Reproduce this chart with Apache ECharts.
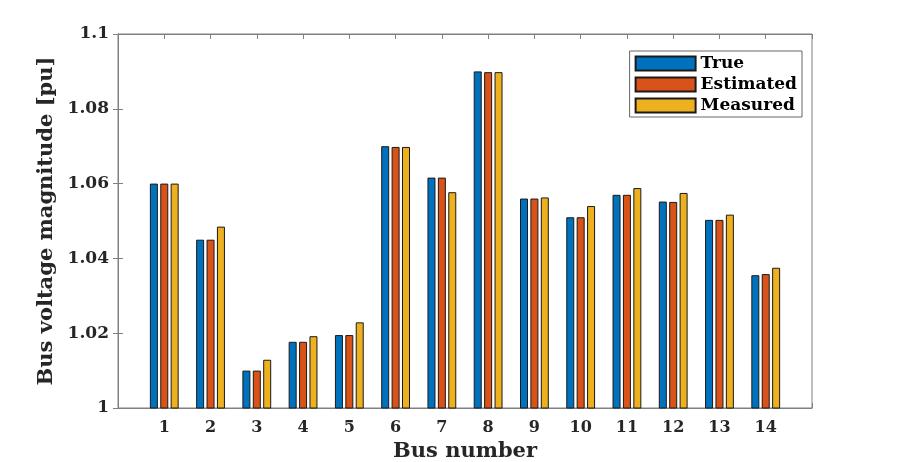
<!DOCTYPE html>
<html>
<head>
<meta charset="utf-8">
<script src="https://cdn.jsdelivr.net/npm/echarts@6/dist/echarts.min.js"></script>
<style>
  html, body { margin: 0; padding: 0; background: #fff; }
  #chart { width: 898px; height: 462px; }
</style>
</head>
<body>
<div id="chart"></div>
<script>
  var buses = [1, 2, 3, 4, 5, 6, 7, 8, 9, 10, 11, 12, 13, 14];
  var trueVals = [1.060, 1.045, 1.010, 1.0177, 1.0195, 1.070, 1.0616, 1.090, 1.056, 1.051, 1.057, 1.0552, 1.0503, 1.0355];
  var estVals = [1.060, 1.045, 1.010, 1.0177, 1.0195, 1.0698, 1.0616, 1.0898, 1.056, 1.051, 1.057, 1.0551, 1.0503, 1.0358];
  var measVals = [1.060, 1.0485, 1.0129, 1.0192, 1.0229, 1.0698, 1.0577, 1.0898, 1.0563, 1.054, 1.0588, 1.0575, 1.0517, 1.0375];
  var yTicks = [1, 1.02, 1.04, 1.06, 1.08, 1.1];

  var font = '"DejaVu Serif", "Liberation Serif", serif';
  var textCol = '#262626';
  var axisCol = '#808080';

  // pair bus number with value
  function pairs(vals) {
    var out = [];
    for (var i = 0; i < buses.length; i++) {
      out.push([buses[i], vals[i]]);
    }
    return out;
  }

  function barSeries(name, color, vals) {
    return {
      name: name,
      type: 'bar',
      barWidth: 8,
      barGap: '30%',
      itemStyle: { color: color, borderColor: '#1a1a1a', borderWidth: 1, borderRadius: 0 },
      data: pairs(vals)
    };
  }

  var chart = echarts.init(document.getElementById('chart'));
  chart.setOption({
    animation: false,
    grid: {
      left: 118, top: 34, right: 86, bottom: 54,
      outerBoundsMode: 'none',
      show: true, borderColor: axisCol, borderWidth: 1
    },
    legend: {
      orient: 'vertical',
      right: 96,
      top: 51,
      icon: 'rect',
      itemWidth: 60,
      itemHeight: 14,
      itemGap: 4,
      padding: [4, 5, 3, 5],
      borderColor: '#666',
      borderWidth: 1,
      backgroundColor: '#fff',
      textStyle: { fontFamily: font, fontWeight: 'bold', fontSize: 17, color: '#000' },
      data: ['True', 'Estimated', 'Measured']
    },
    xAxis: [{
      type: 'value',
      min: 0,
      max: 15,
      interval: 1,
      name: 'Bus number',
      nameLocation: 'middle',
      nameGap: 31,
      nameTextStyle: { fontFamily: font, fontWeight: 'bold', fontSize: 21, color: textCol },
      axisLine: { lineStyle: { color: axisCol } },
      axisTick: { inside: true, length: 5, lineStyle: { color: axisCol } },
      axisLabel: {
        fontFamily: font, fontWeight: 'bold', fontSize: 16, color: textCol, margin: 12,
        formatter: function (v) { return (v >= 1 && v <= 14) ? String(v) : ''; }
      },
      splitLine: { show: false }
    }, {
      type: 'value',
      position: 'top',
      min: 0,
      max: 15,
      interval: 1,
      axisLine: { show: true, lineStyle: { color: axisCol } },
      axisTick: { inside: true, length: 5, lineStyle: { color: axisCol } },
      axisLabel: { show: false },
      splitLine: { show: false }
    }],
    yAxis: [{
      type: 'value',
      min: 1,
      max: 1.1,
      interval: 0.02,
      name: 'Bus voltage magnitude [pu]',
      nameLocation: 'middle',
      nameGap: 58,
      nameTextStyle: { fontFamily: font, fontWeight: 'bold', fontSize: 21, color: textCol },
      axisLine: { show: true, lineStyle: { color: axisCol } },
      axisTick: { show: true, inside: true, length: 5, lineStyle: { color: axisCol } },
      axisLabel: {
        fontFamily: font, fontWeight: 'bold', fontSize: 17, color: textCol, margin: 9,
        formatter: function (v) {
          for (var i = 0; i < yTicks.length; i++) {
            if (Math.abs(v - yTicks[i]) < 1e-6) return String(yTicks[i]);
          }
          return '';
        }
      },
      splitLine: { show: false }
    }, {
      type: 'value',
      position: 'right',
      min: 1,
      max: 1.1,
      interval: 0.02,
      axisLine: { show: true, lineStyle: { color: axisCol } },
      axisTick: { show: true, inside: true, length: 5, lineStyle: { color: axisCol } },
      axisLabel: { show: false },
      splitLine: { show: false }
    }],
    series: [
      barSeries('True', '#0072BD', trueVals),
      barSeries('Estimated', '#D95319', estVals),
      barSeries('Measured', '#EDB120', measVals),
      // empty series so the top / right frame axes get drawn
      { type: 'line', xAxisIndex: 1, yAxisIndex: 1, data: [], silent: true }
    ]
  });
</script>
</body>
</html>
